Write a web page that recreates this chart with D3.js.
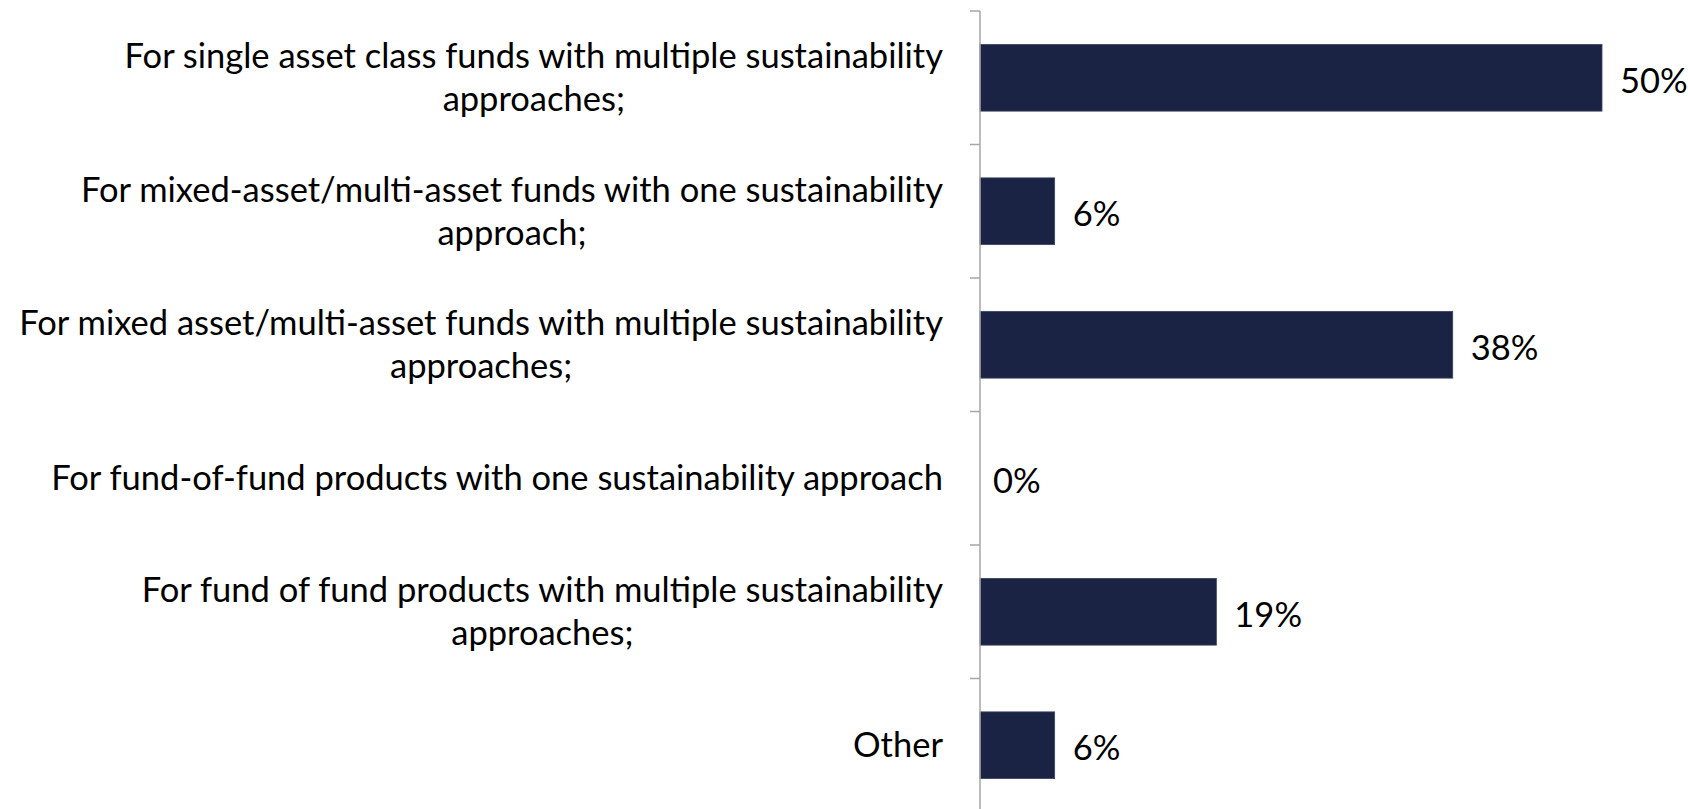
<!DOCTYPE html>
<html>
<head>
<meta charset="utf-8">
<script src="https://cdn.jsdelivr.net/npm/d3@7"></script>
<style>
  html, body { margin: 0; padding: 0; background: #ffffff; }
  svg { display: block; }
  text { font-family: Lato, "Open Sans", sans-serif; fill: #000; }
</style>
</head>
<body>
<svg id="chart" width="1688" height="809"></svg>
<script>
// Category labels, each split into its wrapped lines
const categories = [
  ["For single asset class funds with multiple sustainability", "approaches;"],
  ["For mixed-asset/multi-asset funds with one sustainability", "approach;"],
  ["For mixed asset/multi-asset funds with multiple sustainability", "approaches;"],
  ["For fund-of-fund products with one sustainability approach"],
  ["For fund of fund products with multiple sustainability", "approaches;"],
  ["Other"]
];
// Share of respondents, percent
const values = [50, 6, 38, 0, 19, 6];
const valueLabels = ["50%", "6%", "38%", "0%", "19%", "6%"];

const svg = d3.select("#chart");
const axisX = 980;
const plotTop = 11, plotBottom = 812;

const y = d3.scaleBand()
  .domain(d3.range(categories.length))
  .range([plotTop, plotBottom])
  .paddingInner(0.5)
  .paddingOuter(0.25);

const x = d3.scaleLinear()
  .domain([0, 50])
  .range([axisX, 1602]);

const step = y.step();
const fontSize = 34.5;
const lineH = 43;

// Bars
svg.append("g").selectAll("rect")
  .data(values)
  .join("rect")
  .attr("x", x(0))
  .attr("y", (d, i) => y(i))
  .attr("width", d => x(d) - x(0))
  .attr("height", y.bandwidth())
  .attr("fill", "#1a2344")
  .attr("stroke", "#3b4462")
  .attr("stroke-width", 0.8)
  .attr("stroke-opacity", d => d > 0 ? 1 : 0);

// Value labels
svg.append("g").selectAll("text")
  .data(values)
  .join("text")
  .attr("x", d => x(d) + (d > 0 ? 18 : 13))
  .attr("y", (d, i) => y(i) + y.bandwidth() / 2 + 3)
  .attr("dy", "0.35em")
  .attr("font-size", fontSize)
  .text((d, i) => valueLabels[i]);

// Vertical axis with outward ticks at category boundaries
const axisG = svg.append("g");
axisG.append("line")
  .attr("x1", axisX).attr("x2", axisX)
  .attr("y1", plotTop).attr("y2", plotBottom)
  .attr("stroke", "#a6a6a6").attr("stroke-width", 1.5);
axisG.selectAll("line.tick")
  .data(d3.range(categories.length + 1))
  .join("line")
  .attr("class", "tick")
  .attr("x1", axisX - 10).attr("x2", axisX)
  .attr("y1", i => plotTop + i * step)
  .attr("y2", i => plotTop + i * step)
  .attr("stroke", "#a6a6a6").attr("stroke-width", 1.5);

// Category labels: block right-aligned to the axis gap, lines centred within the block
const labelRight = 943;
const labelG = svg.append("g");
categories.forEach((lines, i) => {
  const cy = y(i) + y.bandwidth() / 2;
  const g = labelG.append("g");
  const texts = lines.map((ln, k) => g.append("text")
    .attr("font-size", fontSize)
    .attr("y", cy + (k - (lines.length - 1) / 2) * lineH)
    .attr("dy", "0.35em")
    .attr("text-anchor", "middle")
    .text(ln));
  const widths = texts.map(t => t.node().getComputedTextLength());
  const w = Math.max(...widths);
  texts.forEach(t => t.attr("x", labelRight - w / 2));
});
</script>
</body>
</html>
